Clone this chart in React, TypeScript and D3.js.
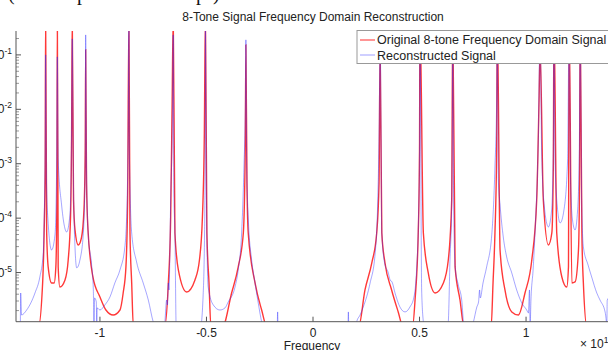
import React from "react";
import * as d3 from "d3";

const chartTitle = "8-Tone Signal Frequency Domain Reconstruction";
const legendLabels = ["Original 8-tone Frequency Domain Signal", "Reconstructed Signal"];
const xTicks = [-1, -0.5, 0, 0.5, 1];
const xTickLabels = ["-1", "-0.5", "0", "0.5", "1"];
const yTickExponents = [-1, -2, -3, -4, -5];
const xLabel = "Frequency";
const xExponent = "10";

// [frequency (x 1e10), magnitude]
const originalSignal: [number, number][] = [
  [-1.394, 1e-6], [-1.289, 1e-6], [-1.269, 6.44e-6], [-1.262, 5.34e-5], [-1.257, 8.73e-4], [-1.255, 0.5],
  [-1.25, 5.34e-5], [-1.243, 1.27e-5], [-1.227, 6.44e-6], [-1.215, 6.44e-6], [-1.207, 1.27e-5], [-1.202, 2.16e-4],
  [-1.2, 0.5], [-1.196, 1.27e-5], [-1.188, 5.43e-6], [-1.164, 7.31e-6], [-1.149, 1.7e-5], [-1.138, 1.05e-4],
  [-1.133, 3.68e-3], [-1.13, 0.5], [-1.124, 2.16e-4], [-1.117, 6.07e-5], [-1.102, 3.21e-5], [-1.087, 4.32e-5],
  [-1.075, 1.42e-4], [-1.069, 1.79e-3], [-1.067, 0.124], [-1.063, 4.44e-4], [-1.056, 6.07e-5], [-1.033, 8.3e-6],
  [-1.0, 3.56e-6], [-0.972, 2.05e-6], [-0.938, 1.66e-6], [-0.906, 2.05e-6], [-0.891, 4.21e-6], [-0.878, 1.27e-5],
  [-0.87, 2.16e-4], [-0.864, 0.5], [-0.859, 5.34e-5], [-0.851, 6.44e-6], [-0.843, 1e-6],
  [-0.697, 1e-6], [-0.679, 6.44e-6], [-0.668, 1.05e-4], [-0.661, 1.49e-2], [-0.656, 0.5], [-0.648, 5.34e-5],
  [-0.632, 1.12e-5], [-0.593, 4.39e-6], [-0.554, 7.31e-6], [-0.533, 1.7e-5], [-0.519, 1.05e-4], [-0.51, 3.68e-3],
  [-0.505, 0.5], [-0.498, 5.34e-5], [-0.488, 6.44e-6], [-0.479, 1e-6],
  [-0.425, 1e-6], [-0.382, 4.21e-6], [-0.351, 1.27e-5], [-0.327, 5.34e-5], [-0.318, 1.79e-3], [-0.315, 0.153],
  [-0.31, 4.44e-4], [-0.304, 5.34e-5], [-0.272, 6.44e-6], [-0.241, 2.05e-6], [-0.216, 1e-6],
  [0.214, 1e-6], [0.244, 4.79e-6], [0.276, 1.5e-5], [0.299, 5.34e-5], [0.31, 4.44e-4], [0.315, 0.15],
  [0.323, 5.34e-5], [0.338, 1.5e-5], [0.369, 4.79e-6], [0.4, 1.89e-6], [0.423, 1e-6],
  [0.467, 1e-6], [0.479, 3.13e-6], [0.494, 5.34e-5], [0.5, 1.79e-3], [0.502, 0.5], [0.518, 5.34e-5],
  [0.541, 9.83e-6], [0.573, 4.21e-6], [0.612, 6.44e-6], [0.635, 1.7e-5], [0.651, 2.16e-4], [0.656, 0.5],
  [0.667, 1.27e-5], [0.69, 3.13e-6], [0.709, 1e-6],
  [0.836, 1e-6], [0.845, 6.44e-6], [0.854, 5.34e-5], [0.862, 1.79e-3], [0.865, 0.5], [0.878, 2.6e-5],
  [0.901, 4.79e-6], [0.933, 1.89e-6], [0.964, 1.66e-6], [0.995, 4.21e-6], [1.027, 1.7e-5], [1.05, 2.16e-4],
  [1.061, 1.49e-2], [1.066, 0.124], [1.081, 2.16e-4], [1.105, 3.21e-5], [1.121, 5.34e-5], [1.128, 8.73e-4],
  [1.131, 0.5], [1.144, 5.34e-5], [1.168, 8.3e-6], [1.191, 5.43e-6], [1.199, 1.27e-5], [1.202, 0.5],
  [1.215, 6.44e-6], [1.23, 6.72e-6], [1.246, 2.6e-5], [1.251, 4.44e-4], [1.254, 0.5], [1.262, 5.34e-5],
  [1.269, 6.44e-6], [1.286, 1e-6], [1.394, 1e-6],
];

const reconstructedSignal: [number, number][] = [
  [-1.394, 1e-6], [-1.374, 1e-6], [-1.372, 4.21e-6], [-1.368, 1.66e-6], [-1.344, 2.05e-6], [-1.305, 4.21e-6],
  [-1.282, 8.3e-6], [-1.266, 2.29e-5], [-1.262, 9.27e-5], [-1.257, 1.79e-3], [-1.255, 0.1], [-1.251, 5.04e-4],
  [-1.244, 9.27e-5], [-1.227, 2.6e-5], [-1.211, 4.91e-5], [-1.204, 5.04e-4], [-1.2, 0.092], [-1.196, 1.17e-3],
  [-1.18, 1.75e-4], [-1.156, 5.57e-5], [-1.141, 1.15e-4], [-1.134, 1.79e-3], [-1.13, 0.197], [-1.125, 7.69e-4],
  [-1.12, 6.07e-5], [-1.109, 1.22e-5], [-1.094, 1.7e-5], [-1.077, 6.07e-5], [-1.069, 1.17e-3], [-1.067, 0.233],
  [-1.063, 7.69e-4], [-1.055, 4.91e-5], [-1.039, 1.38e-5], [-1.031, 4.79e-6], [-1.028, 1e-6], [-1.025, 3.41e-6],
  [-1.017, 2.88e-6], [-1.015, 1e-6], [-1.013, 2.24e-6], [-1.0, 2.05e-6], [-0.977, 2.54e-6], [-0.953, 3.56e-6],
  [-0.93, 6.44e-6], [-0.906, 1.12e-5], [-0.883, 2.96e-5], [-0.872, 2.45e-4], [-0.867, 6.38e-3], [-0.864, 0.3],
  [-0.862, 1.79e-3], [-0.851, 5.34e-5], [-0.828, 1.57e-5], [-0.797, 6.44e-6], [-0.773, 3.13e-6], [-0.75, 1.24e-6],
  [-0.742, 1e-6], [-0.697, 1e-6], [-0.695, 1.24e-6], [-0.687, 3.13e-6], [-0.683, 2.54e-6], [-0.679, 6.44e-6],
  [-0.676, 4.79e-6], [-0.668, 2.16e-4], [-0.66, 6.38e-3], [-0.656, 0.233], [-0.653, 2.9e-4], [-0.648, 5.34e-5],
  [-0.642, 1e-6], [-0.528, 1e-6], [-0.516, 3.56e-6], [-0.509, 5.34e-5], [-0.506, 1.79e-3], [-0.505, 0.3],
  [-0.5, 2.16e-4], [-0.492, 5.43e-6], [-0.468, 2.54e-6], [-0.437, 2.05e-6], [-0.413, 2.24e-6], [-0.398, 2.88e-6],
  [-0.366, 5.43e-6], [-0.351, 1.12e-5], [-0.335, 5.34e-5], [-0.324, 8.73e-4], [-0.317, 1.49e-2], [-0.315, 0.189],
  [-0.311, 8.73e-4], [-0.304, 1.05e-4], [-0.288, 1.7e-5], [-0.272, 6.44e-6], [-0.257, 2.76e-6], [-0.241, 1.24e-6],
  [-0.235, 1e-6], [-0.168, 1e-6], [-0.166, 1.89e-6], [-0.164, 1e-6],
  [0.164, 1e-6], [0.166, 1.89e-6], [0.168, 1e-6], [0.2, 1e-6], [0.205, 1.24e-6], [0.221, 1.66e-6],
  [0.236, 2.33e-6], [0.268, 6.44e-6], [0.291, 2.11e-5], [0.304, 2.16e-4], [0.311, 6.38e-3], [0.315, 0.3],
  [0.323, 5.34e-5], [0.338, 1.38e-5], [0.352, 1.03e-5], [0.362, 7.31e-6], [0.371, 6.72e-6], [0.385, 4.21e-6],
  [0.408, 2.33e-6], [0.432, 1.89e-6], [0.455, 2.33e-6], [0.474, 3.56e-6], [0.487, 1.27e-5], [0.494, 6.07e-5],
  [0.5, 1.79e-3], [0.502, 0.3], [0.51, 4.79e-6], [0.518, 1.24e-6], [0.521, 1e-6],
  [0.631, 1e-6], [0.635, 1.24e-6], [0.643, 1.7e-5], [0.651, 1.61e-4], [0.654, 6.38e-3], [0.656, 0.3],
  [0.66, 2.16e-4], [0.667, 1.27e-5], [0.682, 5.92e-6], [0.698, 3.13e-6], [0.706, 1.24e-6], [0.709, 1e-6],
  [0.746, 1e-6], [0.753, 1.24e-6], [0.769, 2.33e-6], [0.777, 2.88e-6], [0.782, 4.79e-6], [0.785, 3.41e-6],
  [0.798, 6.44e-6], [0.815, 1.27e-5], [0.839, 4.91e-5], [0.854, 8.73e-4], [0.862, 1.49e-2], [0.865, 0.3],
  [0.87, 5.04e-4], [0.878, 1.75e-4], [0.893, 4.51e-5], [0.909, 1.94e-5], [0.933, 9.84e-6], [0.956, 4.79e-6],
  [0.98, 2.76e-6], [1.003, 2.05e-6], [1.011, 1.81e-6], [1.016, 4.79e-6], [1.019, 1e-6], [1.023, 3.13e-6],
  [1.033, 1.12e-5], [1.042, 5.34e-5], [1.058, 3.68e-3], [1.066, 0.3], [1.073, 1.79e-3], [1.085, 1.75e-4],
  [1.105, 6.89e-5], [1.12, 1.42e-4], [1.128, 1.79e-3], [1.131, 0.3], [1.136, 1.17e-3], [1.146, 1.75e-4],
  [1.16, 8.17e-5], [1.178, 1.42e-4], [1.195, 1.17e-3], [1.202, 0.3], [1.209, 5.04e-4], [1.218, 9.27e-5],
  [1.23, 6.07e-5], [1.242, 1.42e-4], [1.25, 1.79e-3], [1.254, 0.3], [1.261, 2.16e-4], [1.269, 2.96e-5],
  [1.291, 1.38e-5], [1.308, 8.3e-6], [1.332, 4.21e-6], [1.347, 3.13e-6], [1.371, 1.89e-6], [1.377, 1.24e-6],
  [1.379, 1e-6], [1.381, 3.13e-6], [1.394, 3.56e-6],
];

const W = 608;
const H = 350;
const plot = { left: 16, right: 610, top: 31, bottom: 321.7 };
const font = "'Liberation Sans', Arial, sans-serif";

export default function App() {
  const x = d3.scaleLinear().domain([-1.394, 1.394]).range([plot.left, plot.right]);
  const y = d3.scaleLog().domain([1.25e-6, 0.275]).range([plot.bottom, plot.top]);

  const line = d3
    .line<[number, number]>()
    .x((d) => x(d[0]))
    .y((d) => y(d[1]))
    .curve(d3.curveMonotoneX);

  const minorTicks = y.ticks().filter((t) => {
    const e = Math.log10(t);
    return Math.abs(e - Math.round(e)) > 1e-6;
  });

  return (
    <div style={{ position: "absolute", left: 0, top: 0 }}>
      <svg width={W} height={H} style={{ display: "block", background: "#fff" }} fontFamily={font}>
        <defs>
          <clipPath id="plotClip">
            <rect x={plot.left} y={plot.top} width={plot.right - plot.left} height={plot.bottom - plot.top} />
          </clipPath>
        </defs>

        {/* bottom of a caption line cut off above the figure */}
        <text fontFamily="'Liberation Serif', 'Times New Roman', serif" fontSize={20} y={-0.5} fill="#111">
          <tspan x={8}>(</tspan>
          <tspan x={77}>p</tspan>
          <tspan x={196}>p</tspan>
          <tspan x={213}>)</tspan>
        </text>

        <text x={313} y={21} textAnchor="middle" fontSize={12} fill="#222">
          {chartTitle}
        </text>

        <g clipPath="url(#plotClip)" fill="none">
          <path d={line(originalSignal) ?? ""} stroke="#ff0000" strokeOpacity={0.78} strokeWidth={1.4} />
          <path d={line(reconstructedSignal) ?? ""} stroke="#2a2aff" strokeOpacity={0.42} strokeWidth={1} />
        </g>

        {/* axes */}
        <g stroke="#555" strokeWidth={1} fill="none">
          <line x1={plot.left} x2={plot.left} y1={plot.top} y2={plot.bottom} />
          <line x1={plot.left} x2={W} y1={plot.bottom} y2={plot.bottom} />
          {yTickExponents.map((e) => (
            <line key={e} x1={plot.left} x2={plot.left + 5} y1={y(Math.pow(10, e))} y2={y(Math.pow(10, e))} />
          ))}
          {minorTicks.map((t, i) => (
            <line key={i} x1={plot.left} x2={plot.left + 3} y1={y(t)} y2={y(t)} strokeWidth={0.6} />
          ))}
          {xTicks.map((t) => (
            <line key={t} x1={x(t)} x2={x(t)} y1={plot.bottom} y2={plot.bottom - 5} />
          ))}
        </g>

        {yTickExponents.map((e) => (
          <text key={e} x={12} y={y(Math.pow(10, e)) + 4} textAnchor="end" fontSize={12} fill="#222">
            10
            <tspan fontSize={8.5} dy={-5}>
              {String(e)}
            </tspan>
          </text>
        ))}

        {xTicks.map((t, i) => (
          <text key={t} x={x(t)} y={336.5} textAnchor="middle" fontSize={12} fill="#222">
            {xTickLabels[i]}
          </text>
        ))}

        <text x={312} y={350} textAnchor="middle" fontSize={12} fill="#222">
          {xLabel}
        </text>
        <text x={580} y={348} fontSize={12} fill="#222">
          × 10
          <tspan fontSize={8.5} dy={-5}>
            {xExponent}
          </tspan>
        </text>

        {/* legend */}
        <rect x={357} y={30.5} width={262} height={33} fill="#fff" stroke="#999" strokeWidth={1} />
        <line x1={360} x2={375} y1={40} y2={40} stroke="#ff0000" strokeOpacity={0.7} strokeWidth={1.2} />
        <line x1={360} x2={375} y1={55} y2={55} stroke="#2a2aff" strokeOpacity={0.45} strokeWidth={1} />
        <text x={377} y={44} fontSize={12.5} fill="#222">
          {legendLabels[0]}
        </text>
        <text x={377} y={59.5} fontSize={12.5} fill="#222">
          {legendLabels[1]}
        </text>
      </svg>
    </div>
  );
}
